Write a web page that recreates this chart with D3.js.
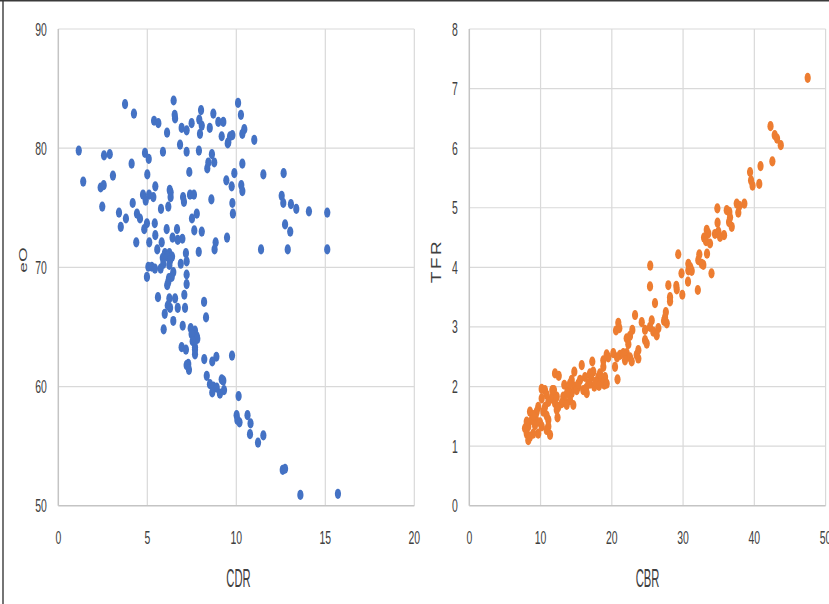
<!DOCTYPE html>
<html>
<head>
<meta charset="utf-8">
<script src="https://cdn.jsdelivr.net/npm/d3@7"></script>
<style>
  body { margin: 0; background: #fff; }
  svg { display: block; }
</style>
</head>
<body>
<script>
// Left panel: crude death rate vs life expectancy
const cdr = [6.48,10.10,3.75,8.02,8.71,4.25,10.26,6.54,6.56,5.38,5.62,7.49,7.92,8.99,9.27,6.93,7.21,8.06,8.51,10.45,
  6.11,7.96,9.18,9.65,9.78,10.34,11.01,9.55,9.52,6.84,7.90,1.15,5.88,7.21,4.87,2.89,8.63,2.57,5.08,8.43,
  8.76,4.12,10.34,8.37,7.36,9.89,11.52,12.66,5.00,3.07,9.44,1.40,10.28,9.74,5.45,2.38,2.55,6.26,10.34,6.31,
  4.76,5.10,7.40,7.62,12.55,5.34,6.31,7.01,4.91,8.60,4.18,7.06,9.78,12.64,13.07,2.47,6.18,13.37,5.77,14.08,
  3.41,4.42,7.78,15.11,9.81,3.80,4.59,7.51,4.98,5.42,12.74,3.51,4.83,6.09,6.67,7.64,8.06,13.03,5.45,6.42,
  9.48,6.97,6.71,4.38,5.11,5.81,8.84,8.78,7.89,5.56,11.39,12.89,15.11,7.17,5.99,6.24,6.12,6.39,5.87,6.28,
  7.21,6.88,5.90,6.24,5.06,5.25,5.43,5.75,6.46,4.98,6.37,6.22,7.21,6.18,6.12,7.21,7.08,5.60,6.24,6.56,
  8.19,6.15,6.28,6.71,7.12,5.98,8.30,6.46,5.92,6.99,7.44,7.68,7.78,7.81,7.49,7.55,7.68,7.68,7.68,6.93,
  7.17,9.76,8.88,8.20,8.65,7.30,7.21,7.34,8.34,9.18,9.27,8.52,8.71,8.90,9.31,8.65,9.08,10.13,10.02,10.06,
  10.18,10.63,10.80,10.77,11.22,11.52,12.61,12.74,13.60,15.71];
const eo = [84.0,83.8,83.7,83.2,82.9,82.9,82.8,82.8,82.5,82.3,82.1,82.1,82.4,82.2,82.2,81.7,81.5,81.9,81.7,81.6,
  81.3,81.2,81.0,81.0,81.1,81.2,80.7,80.5,80.4,80.3,79.8,79.8,79.7,79.7,79.6,79.5,79.5,79.4,79.1,78.8,
  78.8,78.7,78.7,78.3,78.0,77.9,77.8,77.9,77.8,77.7,77.3,77.2,76.9,76.8,76.8,76.7,76.9,76.5,76.4,76.3,
  76.1,76.1,76.1,76.1,76.0,75.9,75.9,75.9,75.6,75.7,75.4,75.5,75.4,75.4,75.3,75.1,75.1,74.9,74.9,74.7,
  74.6,74.5,74.5,74.6,74.5,74.1,74.1,74.1,73.7,73.7,73.6,73.4,73.2,73.2,73.2,73.1,73.0,73.0,72.7,72.5,
  72.5,72.4,72.3,72.1,72.1,72.1,72.1,71.5,71.3,71.5,71.5,71.5,71.5,71.2,71.2,71.2,70.9,70.9,70.8,70.6,
  70.5,70.3,70.3,70.2,70.05,70.05,69.9,69.9,69.6,69.2,69.2,69.1,69.4,68.8,68.5,68.6,67.7,67.5,67.4,67.4,
  67.1,66.8,66.6,66.6,66.6,66.1,65.8,65.5,64.8,65.1,64.9,64.7,64.2,64.0,64.4,63.8,63.3,63.1,62.7,63.3,
  63.1,62.6,62.5,62.3,62.1,61.9,61.8,61.4,60.9,60.6,60.5,60.2,60.0,59.9,59.7,59.5,59.4,59.2,57.6,57.2,
  57.0,57.6,56.9,56.0,55.3,55.9,53.0,53.1,50.9,51.0];

// Right panel: crude birth rate vs total fertility rate
const cbr = [47.49,42.27,42.86,43.19,43.71,42.53,40.87,39.40,39.54,39.75,40.69,37.53,37.89,37.75,38.60,36.13,36.49,36.59,36.45,36.83,
  34.81,34.84,35.75,34.48,34.95,33.32,33.54,35.19,32.94,33.22,33.78,33.36,32.28,32.14,32.62,32.84,33.99,29.32,30.74,31.02,
  30.74,31.21,29.78,30.69,32.07,25.39,25.36,27.93,29.05,29.11,28.17,29.89,28.17,26.06,27.58,27.47,27.33,27.71,23.26,20.91,
  20.59,21.05,24.20,24.66,25.60,25.36,25.82,26.53,26.30,22.88,22.09,22.55,22.32,24.66,24.90,23.72,23.49,19.28,20.21,21.15,
  22.09,22.55,20.73,21.61,21.85,22.79,23.72,19.51,20.45,20.80,18.81,18.81,19.05,18.95,18.48,18.11,18.34,19.28,17.26,17.40,
  17.08,17.54,16.94,15.78,16.24,15.54,16.00,16.48,15.30,14.74,14.37,14.74,14.37,13.89,14.13,14.60,13.33,13.19,13.43,12.97,
  13.67,12.03,12.55,11.65,11.56,12.03,12.27,12.49,12.38,10.16,10.62,10.86,10.16,11.09,10.62,10.39,10.86,9.68,9.46,9.32,
  9.22,9.92,10.16,9.68,8.98,11.09,10.86,11.33,11.09,8.52,8.76,8.28,8.06,8.06,8.28,8.52,7.82,8.98,12.27,14.13,
  15.07,15.30,16.38,16.70,16.94,17.71,18.20,13.71,11.88];
const tfr = [7.18,6.37,6.22,6.16,6.05,5.78,5.70,5.60,5.46,5.37,5.40,5.07,5.03,4.92,5.07,4.96,4.93,4.84,4.76,4.68,
  4.99,4.75,4.54,4.56,4.60,4.63,4.57,4.51,4.50,4.44,4.40,4.23,4.22,4.12,4.06,4.04,3.90,4.22,4.06,4.00,
  3.95,3.94,3.90,3.76,3.62,4.03,3.68,3.70,3.69,3.63,3.50,3.54,3.43,3.40,3.25,3.16,3.10,3.06,3.20,3.07,
  2.94,2.98,3.08,2.95,3.11,3.00,2.92,2.98,2.86,2.95,2.81,2.85,2.71,2.78,2.72,2.61,2.53,2.54,2.56,2.53,
  2.56,2.49,2.49,2.56,2.44,2.42,2.47,2.49,2.33,2.12,2.44,2.33,2.16,2.03,2.11,2.16,2.22,2.05,2.42,2.25,
  2.16,2.00,2.05,2.36,2.16,2.11,1.94,1.89,2.00,2.25,2.11,2.00,1.89,1.94,1.77,1.69,2.03,1.83,1.74,1.72,
  1.69,2.22,2.18,1.94,1.80,1.72,1.61,1.66,1.48,1.96,1.94,1.86,1.80,1.74,1.66,1.58,1.51,1.66,1.58,1.47,
  1.35,1.40,1.33,1.21,1.21,1.44,1.27,1.19,1.33,1.58,1.44,1.33,1.41,1.21,1.10,1.16,1.30,1.52,1.83,2.05,
  1.94,2.05,1.97,2.05,2.22,2.08,2.01,1.89,1.94];

// Tick labels
const cdrTicks = [0, 5, 10, 15, 20];
const eoTicks = [50, 60, 70, 80, 90];
const cbrTicks = [0, 10, 20, 30, 40, 50];
const tfrTicks = [0, 1, 2, 3, 4, 5, 6, 7, 8];

const width = 829, height = 604;
const plotTop = 29, plotBottom = 505.7;

const svg = d3.select("body")
    .append('svg')
    .attr('width', width)
    .attr('height', height);

svg.append('rect')
    .attr('width', width)
    .attr('height', height)
    .attr('fill', '#fff');

// frame edges visible in the picture
svg.append('line')
    .attr('x1', 0).attr('x2', width).attr('y1', 0.75).attr('y2', 0.75)
    .attr('stroke', '#3a3a3a').attr('stroke-width', 1.5);
svg.append('line')
    .attr('x1', 3).attr('x2', 3).attr('y1', 0).attr('y2', height)
    .attr('stroke', '#3a3a3a').attr('stroke-width', 1.4);

const font = "'Liberation Sans', Arial, sans-serif";

// horizontally squeezed text, as in the source picture
function label(x, y, txt, size, sx, anchor) {
    svg.append('text')
        .attr('transform', `translate(${x},${y}) scale(${sx},1)`)
        .attr('font-family', font)
        .attr('font-size', size)
        .attr('fill', '#404040')
        .attr('text-anchor', anchor)
        .text(txt);
}

function vlabel(x, y, txt, size, sy, spacing) {
    svg.append('text')
        .attr('transform', `translate(${x},${y}) rotate(-90) scale(1,${sy})`)
        .attr('font-family', font)
        .attr('font-size', size)
        .attr('letter-spacing', spacing)
        .attr('fill', '#404040')
        .attr('text-anchor', 'middle')
        .text(txt);
}

function panel(opt) {
    const x = d3.scaleLinear().domain(opt.xDomain).range([opt.left, opt.right]);
    const y = d3.scaleLinear().domain(opt.yDomain).range([plotBottom, plotTop]);
    const g = svg.append('g');

    // gridlines
    g.selectAll('.vg')
        .data(opt.xTicks.slice(1))
        .join('line')
        .attr('x1', d => x(d)).attr('x2', d => x(d))
        .attr('y1', plotTop).attr('y2', plotBottom)
        .attr('stroke', '#d9d9d9').attr('stroke-width', 1.2);
    g.selectAll('.hg')
        .data(opt.yTicks.slice(1))
        .join('line')
        .attr('x1', opt.left).attr('x2', opt.right)
        .attr('y1', d => y(d)).attr('y2', d => y(d))
        .attr('stroke', '#d9d9d9').attr('stroke-width', 1.2);

    // axis lines
    g.append('line')
        .attr('x1', opt.left).attr('x2', opt.right)
        .attr('y1', plotBottom).attr('y2', plotBottom)
        .attr('stroke', '#c4c4c4').attr('stroke-width', 1.5);
    g.append('line')
        .attr('x1', opt.left).attr('x2', opt.left)
        .attr('y1', plotTop).attr('y2', plotBottom)
        .attr('stroke', '#c4c4c4').attr('stroke-width', 1.5);

    // points
    g.selectAll('ellipse')
        .data(opt.xs.map((v, i) => [v, opt.ys[i]]))
        .join('ellipse')
        .attr('cx', d => x(d[0]))
        .attr('cy', d => y(d[1]))
        .attr('rx', 3.1)
        .attr('ry', 5.1)
        .attr('fill', opt.color);

    // tick labels
    opt.xTicks.forEach(t => label(x(t), 544, t, 18, 0.58, 'middle'));
    opt.yTicks.forEach(t => label(opt.left - 11.5, y(t) + 6.5, t, 18, 0.58, 'end'));

    label(opt.titleX, 587, opt.xTitle, 25, 0.45, 'middle');
}

panel({
    xs: cdr, ys: eo,
    xDomain: [0, 20], yDomain: [50, 90],
    left: 58.3, right: 414.3,
    xTicks: cdrTicks, yTicks: eoTicks,
    color: '#4472C4',
    xTitle: 'CDR', titleX: 238.5
});

panel({
    xs: cbr, ys: tfr,
    xDomain: [0, 50], yDomain: [0, 8],
    left: 469.3, right: 825.6,
    xTicks: cbrTicks, yTicks: tfrTicks,
    color: '#ED7D31',
    xTitle: 'CBR', titleX: 647.5
});

// y axis titles
vlabel(26.7, 260, 'eO', 19, 0.62, 0);
vlabel(441, 261, 'TFR', 19, 0.78, 2.5);
</script>
</body>
</html>
